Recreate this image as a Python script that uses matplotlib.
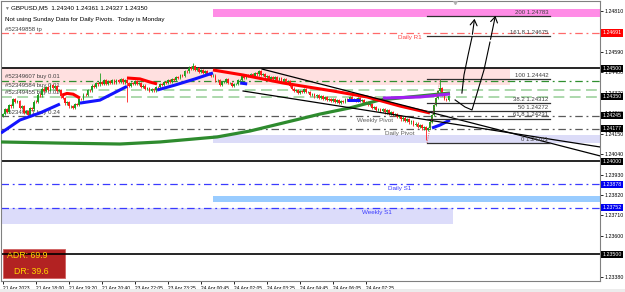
import matplotlib
matplotlib.use("Agg")
import matplotlib.pyplot as plt
from matplotlib.patches import Rectangle

plt.rcParams["font.family"] = ["Liberation Sans", "DejaVu Sans"]

#### Data ####

# M5 closes, bar 0 = 21 Apr 16:40 ; open of each bar = previous close
first_open = 1.24245
closes = [
    1.24255, 1.24280, 1.24268, 1.24305, 1.24296, 1.24335, 1.24318, 1.24325, 1.24290, 1.24296,
    1.24262, 1.24270, 1.24252, 1.24285, 1.24280, 1.24322, 1.24318, 1.24360, 1.24355, 1.24392,
    1.24380, 1.24398, 1.24386, 1.24412, 1.24395, 1.24404, 1.24378, 1.24385, 1.24350, 1.24342,
    1.24312, 1.24318, 1.24296, 1.24300, 1.24288, 1.24310, 1.24305, 1.24338, 1.24334, 1.24360,
    1.24356, 1.24386, 1.24382, 1.24408, 1.24403, 1.24422, 1.24414, 1.24428, 1.24418, 1.24438,
    1.24415, 1.24432, 1.24424, 1.24440, 1.24422, 1.24436, 1.24430, 1.24444, 1.24425, 1.24440,
    1.24420, 1.24408, 1.24422, 1.24416, 1.24432, 1.24418, 1.24424, 1.24402, 1.24408, 1.24390,
    1.24396, 1.24378, 1.24388, 1.24382, 1.24400, 1.24398, 1.24416, 1.24410, 1.24428, 1.24420,
    1.24436, 1.24428, 1.24444, 1.24438, 1.24455, 1.24448, 1.24466, 1.24462, 1.24488, 1.24484,
    1.24505, 1.24498, 1.24512, 1.24494, 1.24500, 1.24482, 1.24490, 1.24476, 1.24484, 1.24472,
    1.24476, 1.24458, 1.24462, 1.24436, 1.24440, 1.24412, 1.24426, 1.24428, 1.24442, 1.24420,
    1.24424, 1.24404, 1.24415, 1.24418, 1.24436, 1.24440, 1.24458, 1.24448, 1.24464, 1.24458,
    1.24470, 1.24462, 1.24474, 1.24468, 1.24486, 1.24466, 1.24470, 1.24452, 1.24458, 1.24444,
    1.24456, 1.24446, 1.24455, 1.24440, 1.24450, 1.24434, 1.24444, 1.24428, 1.24432, 1.24408,
    1.24392, 1.24380, 1.24386, 1.24370, 1.24380, 1.24376, 1.24390, 1.24372, 1.24374, 1.24358,
    1.24362, 1.24350, 1.24358, 1.24342, 1.24352, 1.24336, 1.24346, 1.24330, 1.24336, 1.24326,
    1.24334, 1.24318, 1.24330, 1.24314, 1.24326, 1.24320, 1.24336, 1.24330, 1.24346, 1.24332,
    1.24338, 1.24326, 1.24340, 1.24324, 1.24330, 1.24314, 1.24320, 1.24302, 1.24308, 1.24288,
    1.24294, 1.24276, 1.24284, 1.24270, 1.24282, 1.24264, 1.24276, 1.24258, 1.24266, 1.24248,
    1.24254, 1.24238, 1.24244, 1.24226, 1.24236, 1.24218, 1.24226, 1.24210, 1.24218, 1.24198,
    1.24204, 1.24188, 1.24196, 1.24178, 1.24186, 1.24168, 1.24182, 1.24215, 1.24248, 1.24305,
    1.24341, 1.24378, 1.24396, 1.24360, 1.24338, 1.24330, 1.24350,
]
high_spikes = {47: 1.24476, 92: 1.24530, 212: 1.24442}
low_spikes = {60: 1.24320, 205: 1.24115}

time_ticks = [0, 16, 32, 48, 64, 80, 96, 112, 128, 144, 160, 176]
time_labels = ["21 Apr 2023", "21 Apr 18:00", "21 Apr 19:20", "21 Apr 20:40",
               "23 Apr 22:05", "23 Apr 23:25", "24 Apr 00:45", "24 Apr 02:05",
               "24 Apr 03:25", "24 Apr 04:45", "24 Apr 06:05", "24 Apr 07:25"]

price_ticks = [1.2338, 1.2349, 1.2360, 1.2371, 1.2382, 1.2393, 1.2404,
               1.2415, 1.2426, 1.2437, 1.2448, 1.2459, 1.2470, 1.2481]

# fast MA, coloured by direction (bar, price)
fast_ma = [
    ("#1414ff", [-1, 8.2, 17.9, 27.6], [1.24153, 1.24223, 1.24261, 1.24309]),
    ("#ff0000", [28.6, 31, 34, 37.3], [1.24357, 1.24366, 1.24362, 1.24341]),
    ("#1414ff", [37.3, 47, 60.1], [1.24314, 1.24330, 1.24404]),
    ("#ff0000", [60.1, 66.4, 71.3, 74.7], [1.24449, 1.24444, 1.24427, 1.24417]),
    ("#1414ff", [74.7, 83.4, 93.1, 101.8], [1.24384, 1.24411, 1.24444, 1.24476]),
    ("#ff0000", [101.8, 116.4, 135.8, 160, 176.5, 192.5, 207.0],
     [1.24492, 1.24465, 1.24422, 1.24379, 1.24347, 1.24298, 1.24261]),
    ("#1414ff", [115.0, 118.4], [1.24422, 1.24417]),
    ("#1414ff", [166.8, 173.1], [1.24331, 1.24331]),
    ("#1414ff", [208.0, 211.9, 216.7], [1.24180, 1.24196, 1.24223]),
    ("#a020f0", [184.2, 202.2, 216.7], [1.24341, 1.24347, 1.24363]),
]
slow_ma_bars = [-1, 27.6, 56.7, 76.1, 103.8, 119.8, 135.8, 153.7, 168.2, 182.8, 197.3, 216.7]
slow_ma_prices = [1.24105, 1.24099, 1.24094, 1.24105, 1.24132, 1.24164, 1.24207,
                  1.24255, 1.24288, 1.24331, 1.24347, 1.24368]

# trend lines (bar, price)
trend_lines = [([125.6, 289.5], [1.24497, 1.24030]),
               ([116.4, 289.5], [1.24379, 1.24078])]

# zones: (start bar, end bar, low, high, colour)
zones = [
    (101.8, 300, 1.24778, 1.24820, "#ff8ce6"),
    (-2, 245.8, 1.24410, 1.24500, "#ffe0e0"),
    (101.8, 300, 1.24100, 1.24140, "#dcdcf8"),
    (101.8, 300, 1.23782, 1.23814, "#99ccff"),
    (-2, 218.2, 1.23663, 1.23750, "#dcdcfa"),
]

# order lines
order_prices = [1.24691, 1.24435, 1.24386, 1.24349, 1.24245]
order_labels = ["#52349858 tp", "#52349607 buy 0.01", "#52349584 buy 0.01",
                "#52349455 buy 0.02", "#52349371 buy 0.24"]

# pivots
pivot_prices = [1.24691, 1.24245, 1.24177, 1.23878, 1.23752]
pivot_names = ["Daily R1", "Weekly Pivot", "Daily Pivot", "Daily S1", "Weekly S1"]
pivot_bars = [191.5, 171.6, 185.2, 186.7, 174.0]
pivot_colors = ["#ff4040", "#606060", "#606060", "#3a3aff", "#3a3aff"]

round_levels = [1.24500, 1.24000, 1.23500]

# fibonacci
fib_start, fib_end = 205.6, 265.2
fib_levels = [200, 161.8, 100, 38.2, 50, 61.8, 0]
fib_prices = [1.24783, 1.24675, 1.24442, 1.24312, 1.24272, 1.24231, 1.24101]

# price boxes on the right scale
box_prices = [1.24691, 1.24500, 1.24350, 1.24245, 1.24177, 1.24000, 1.23878, 1.23752, 1.23500]
box_colors = ["#ff0000", "black", "black", "black", "black", "black", "#0000f0", "#0000f0", "black"]

# hand drawn arrows (bar, price)
arrow_left = ([222.5, 223.5, 225.5, 227.4, 228.8], [1.24368, 1.24465, 1.24573, 1.24669, 1.24782])
arrow_right = ([219.2, 224.0, 227.4, 230.3, 233.2, 236.1, 239.0],
               [1.24331, 1.24293, 1.24277, 1.24384, 1.24492, 1.24642, 1.24798])

adr, dr = 69.9, 39.6

#### Plot ####

fig = plt.figure(figsize=(6.25, 2.92), dpi=100)
ax = fig.add_axes([1 / 625, 11 / 292, 599 / 625, 280 / 292])
ax.set_xlim(-0.97, 289.45)
ax.set_ylim(1.233575, 1.248629)

for x0, x1, lo, hi, col in zones:
    ax.add_patch(Rectangle((x0, lo), x1 - x0, hi - lo, fc=col, ec="none", zorder=0))

dashdot = (0, (6, 3, 1.5, 3))
ax.axhline(order_prices[0], color="#ff6a6a", lw=0.9, ls=dashdot, zorder=1)
ax.axhline(order_prices[1], color="#2f8f2f", lw=0.9, ls=dashdot, zorder=1)
ax.axhline(order_prices[2], color="#a6d6a6", lw=1.3, ls=(0, (6, 3)), zorder=1)
ax.axhline(order_prices[3], color="#a6d6a6", lw=1.3, ls=(0, (6, 3)), zorder=1)
for p in pivot_prices[1:3]:
    ax.axhline(p, color="#5a5a5a", lw=0.9, ls=dashdot, zorder=1)
for p in pivot_prices[3:]:
    ax.axhline(p, color="#3a3aff", lw=0.9, ls=dashdot, zorder=1)
for p in round_levels:
    ax.axhline(p, color="black", lw=1.2, zorder=2)

for p, lab in zip(order_prices, order_labels):
    ax.annotate(lab, (4 / 599, p), xycoords=ax.get_yaxis_transform(), xytext=(0, 1),
                textcoords="offset points", fontsize=4.3, color="#404040", va="bottom", zorder=2)

for p, name, b, col in zip(pivot_prices, pivot_names, pivot_bars, pivot_colors):
    ax.annotate(name, (b, p), xytext=(0, -1.5), textcoords="offset points",
                fontsize=4.5, color=col, va="top", ha="left", zorder=2)

# candles
wick = 0.00006
for i, c in enumerate(closes):
    o = closes[i - 1] if i > 0 else first_open
    col = "#1f9e1f" if c >= o else "#ff1a1a"
    hi = high_spikes.get(i, max(o, c) + wick)
    lo = low_spikes.get(i, min(o, c) - wick)
    ax.vlines(i, lo, hi, color=col, lw=0.6, zorder=3)
    ax.bar(i, max(abs(c - o), 0.000015), bottom=min(o, c), width=0.85, color=col, lw=0, zorder=3)

ax.plot(slow_ma_bars, slow_ma_prices, color="#2e8b2e", lw=2.3, zorder=4, solid_capstyle="butt")
for col, xs, ys in fast_ma:
    ax.plot(xs, ys, color=col, lw=2.2, zorder=4, solid_capstyle="butt")

for xs, ys in trend_lines:
    ax.plot(xs, ys, color="black", lw=0.9, zorder=5)

for lvl, p in zip(fib_levels, fib_prices):
    ax.plot([fib_start, fib_end], [p, p], color="#303030", lw=0.9, zorder=5)
    ax.annotate(f"{lvl:g} {p:.5f}", (fib_end - 0.8, p), xytext=(0, 0.8), textcoords="offset points",
                fontsize=4.3, color="#404040", ha="right", va="bottom", zorder=5)
ax.plot([fib_start, 212], [fib_prices[-1], fib_prices[2]], color="#d04040", lw=0.6, ls=":", zorder=5)

for xs, ys in (arrow_left, arrow_right):
    ax.plot(xs[:-1], ys[:-1], color="black", lw=0.8, zorder=6)
    ax.annotate("", xy=(xs[-1], ys[-1]), xytext=(xs[-2], ys[-2]),
                arrowprops=dict(arrowstyle="->,head_length=0.4,head_width=0.25", lw=0.8, color="black"),
                zorder=6)
ax.plot(219, 1.24855, marker="v", ms=3, color="#b0b0b0", zorder=6)

# axes styling
ax.yaxis.tick_right()
ax.set_yticks(price_ticks)
ax.set_yticklabels([f"{p:.5f}" for p in price_ticks])
ax.set_xticks(time_ticks)
ax.set_xticklabels(time_labels, ha="left")
ax.tick_params(axis="y", length=2, pad=1, labelsize=3.8, width=0.6)
ax.tick_params(axis="x", length=2, pad=1.5, labelsize=3.5, width=0.6)
for s in ax.spines.values():
    s.set_color("#808080")
    s.set_linewidth(0.8)

for p, col in zip(box_prices, box_colors):
    ax.text(1 + 2.5 / 599, p, f"{p:.5f}", transform=ax.get_yaxis_transform(), fontsize=3.8,
            color="white", va="center", ha="left", clip_on=False, zorder=10,
            bbox=dict(boxstyle="square,pad=0.2", fc=col, ec="none"))

# header texts
ax.text(3 / 599, 0.974, "▼", transform=ax.transAxes, fontsize=3.5, color="#808080", va="center")
ax.text(10 / 599, 0.974, "GBPUSD,M5  1.24340 1.24361 1.24327 1.24350", transform=ax.transAxes,
        fontsize=4.5, color="black", va="center")
ax.text(4 / 599, 0.935, "Not using Sunday Data for Daily Pivots.  Today is Monday",
        transform=ax.transAxes, fontsize=4.5, color="black", va="center")

# ADR box
ax.add_patch(Rectangle((2 / 599, 3 / 280), 62 / 599, 29 / 280, transform=ax.transAxes,
                       fc="#b22222", ec="#d06060", lw=0.6, zorder=1))
ax.text(6 / 599, 25 / 280, f"ADR: {adr}", transform=ax.transAxes, fontsize=6.3,
        color="#ffd700", va="center", zorder=7)
ax.text(13 / 599, 10 / 280, f"DR: {dr}", transform=ax.transAxes, fontsize=6.3,
        color="#ffd700", va="center", zorder=7)

fig.patches.append(Rectangle((0, 0), 1, 3 / 292, transform=fig.transFigure, fc="#ececec", ec="none"))

fig.savefig("out.png", dpi=100)
